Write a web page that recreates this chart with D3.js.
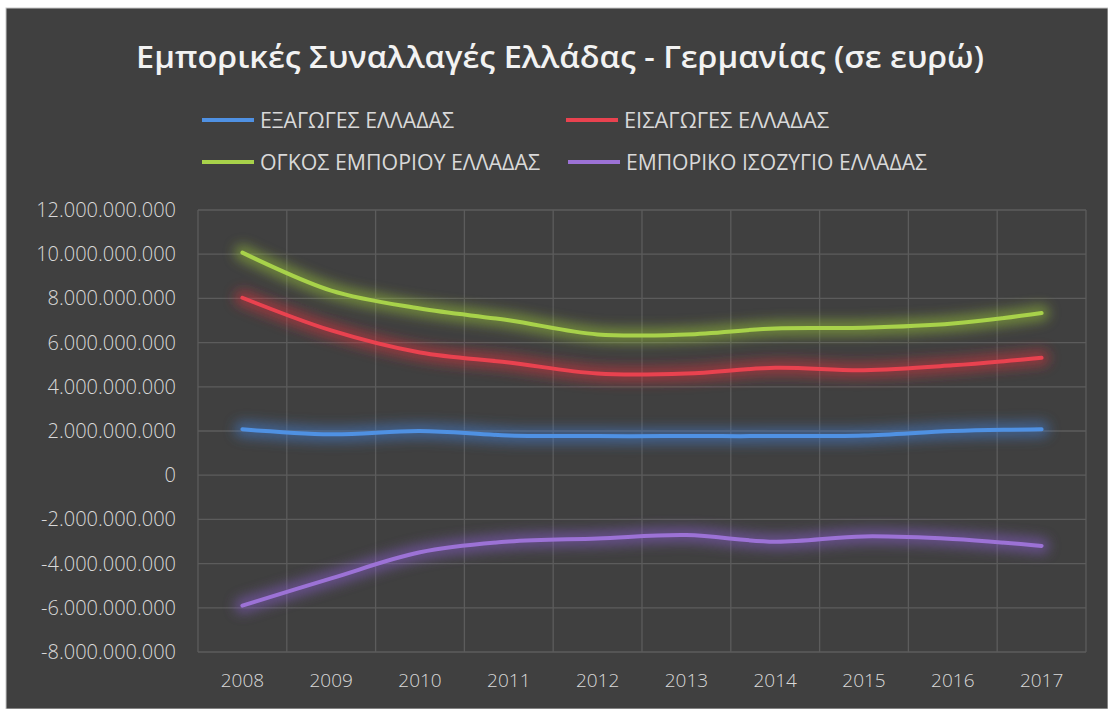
<!DOCTYPE html>
<html>
<head>
<meta charset="utf-8">
<script src="https://cdn.jsdelivr.net/npm/d3@7"></script>
<style>
  html, body { margin: 0; padding: 0; background: #ffffff; }
  svg { display: block; }
</style>
</head>
<body>
<div id="chart"></div>
<script>
const years = ["2008", "2009", "2010", "2011", "2012", "2013", "2014", "2015", "2016", "2017"];
const exportsGR = [2080000000, 1850000000, 2000000000, 1800000000, 1770000000, 1770000000, 1770000000, 1800000000, 2000000000, 2080000000];
const importsGR = [8030000000, 6550000000, 5550000000, 5100000000, 4600000000, 4600000000, 4860000000, 4750000000, 4970000000, 5310000000];
const volumeGR = [10070000000, 8350000000, 7540000000, 7010000000, 6370000000, 6370000000, 6640000000, 6670000000, 6860000000, 7340000000];
const balanceGR = [-5900000000, -4670000000, -3490000000, -3000000000, -2860000000, -2710000000, -3010000000, -2770000000, -2890000000, -3200000000];
const seriesNames = ["ΕΞΑΓΩΓΕΣ ΕΛΛΑΔΑΣ", "ΕΙΣΑΓΩΓΕΣ ΕΛΛΑΔΑΣ", "ΟΓΚΟΣ ΕΜΠΟΡΙΟΥ ΕΛΛΑΔΑΣ", "ΕΜΠΟΡΙΚΟ ΙΣΟΖΥΓΙΟ ΕΛΛΑΔΑΣ"];
const yTicks = [-8000000000, -6000000000, -4000000000, -2000000000, 0, 2000000000, 4000000000, 6000000000, 8000000000, 10000000000, 12000000000];
const titleText = "Εμπορικές Συναλλαγές Ελλάδας - Γερμανίας (σε ευρώ)";

const width = 1108;
const height = 709;
const plot = {left: 198, right: 1086, top: 210, bottom: 652};
const colors = ["#4f91e3", "#e9424f", "#a8d24a", "#9c72d6"];
const glowColors = ["#3f7fd6", "#e0303e", "#9cc83a", "#8a5ed0"];

const series = [exportsGR, importsGR, volumeGR, balanceGR].map((vals, i) => ({
  name: seriesNames[i],
  values: vals.map((v, j) => ({year: years[j], value: v}))
}));

const locale = d3.formatLocale({decimal: ",", thousands: ".", grouping: [3], currency: ["", " €"], minus: "-"});
const fmt = locale.format(",d");

const x = d3.scaleBand().domain(years).range([plot.left, plot.right]);
const y = d3.scaleLinear().domain([-8000000000, 12000000000]).range([plot.bottom, plot.top]);

const svg = d3.select("#chart").append("svg")
  .attr("width", width).attr("height", height)
  .attr("viewBox", [0, 0, width, height]);

const defs = svg.append("defs");
defs.append("filter").attr("id", "glow").attr("x", "-20%").attr("y", "-100%").attr("width", "140%").attr("height", "300%")
  .append("feGaussianBlur").attr("stdDeviation", 6);

// chart background
svg.append("rect").attr("x", 6).attr("y", 8).attr("width", width - 6).attr("height", height - 8)
  .attr("fill", "#404040").attr("stroke", "#c8c8c8").attr("stroke-width", 1);

// title
svg.append("text").attr("x", 560).attr("y", 68).attr("text-anchor", "middle")
  .attr("fill", "#f2f2f2").attr("font-family", "'Open Sans', sans-serif").attr("font-weight", 600).attr("font-size", "31px")
  .attr("textLength", 848).attr("lengthAdjust", "spacingAndGlyphs")
  .text(titleText);

// legend
const legendPos = [
  {x: 202, y: 120, tw: 194},
  {x: 566, y: 120, tw: 205},
  {x: 202, y: 162, tw: 280},
  {x: 568, y: 162, tw: 301}
];
const legend = svg.append("g").selectAll("g").data(series).join("g")
  .attr("transform", (d, i) => `translate(${legendPos[i].x}, ${legendPos[i].y})`);
legend.append("line").attr("x1", 0).attr("x2", 52).attr("y1", 0).attr("y2", 0)
  .attr("stroke", (d, i) => colors[i]).attr("stroke-width", 4);
legend.append("text").attr("x", 58).attr("y", 8)
  .attr("fill", "#d9d9d9").attr("font-family", "'Open Sans', sans-serif").attr("font-size", "22px")
  .attr("textLength", (d, i) => legendPos[i].tw).attr("lengthAdjust", "spacingAndGlyphs")
  .text(d => d.name);

// gridlines
const grid = svg.append("g").attr("stroke", "#5c5c5c").attr("stroke-width", 1.3);
grid.selectAll("line.h").data(yTicks).join("line").attr("class", "h")
  .attr("x1", plot.left).attr("x2", plot.right).attr("y1", d => y(d)).attr("y2", d => y(d));
grid.selectAll("line.v").data(years.concat(["end"])).join("line").attr("class", "v")
  .attr("x1", (d, i) => plot.left + i * x.bandwidth()).attr("x2", (d, i) => plot.left + i * x.bandwidth())
  .attr("y1", plot.top).attr("y2", plot.bottom);

// axes
const yAxis = d3.axisLeft(y).tickValues(yTicks).tickFormat(fmt).tickSize(0).tickPadding(0);
svg.append("g").attr("transform", `translate(176, 0)`).call(yAxis)
  .call(g => g.select(".domain").remove())
  .call(g => g.selectAll(".tick text").attr("fill", "#d9d9d9").attr("font-family", "'Open Sans', sans-serif").attr("font-size", "20px").attr("font-weight", 300));

const xAxis = d3.axisBottom(x).tickSize(0).tickPadding(0);
svg.append("g").attr("transform", `translate(0, 673)`).call(xAxis)
  .call(g => g.select(".domain").remove())
  .call(g => g.selectAll(".tick text").attr("fill", "#d9d9d9").attr("font-family", "'Open Sans', sans-serif").attr("font-size", "19px").attr("font-weight", 300));

// lines
const lineGen = d3.line().x(d => x(d.year) + x.bandwidth() / 2).y(d => y(d.value)).curve(d3.curveCatmullRom.alpha(0.5));

svg.append("g").attr("filter", "url(#glow)").selectAll("path").data(series).join("path")
  .attr("fill", "none").attr("stroke", (d, i) => glowColors[i]).attr("stroke-width", 16).attr("opacity", 0.5)
  .attr("stroke-linecap", "round").attr("d", d => lineGen(d.values));

svg.append("g").selectAll("path").data(series).join("path")
  .attr("fill", "none").attr("stroke", (d, i) => colors[i]).attr("stroke-width", 4)
  .attr("stroke-linecap", "round").attr("stroke-linejoin", "round").attr("d", d => lineGen(d.values));
</script>
</body>
</html>
